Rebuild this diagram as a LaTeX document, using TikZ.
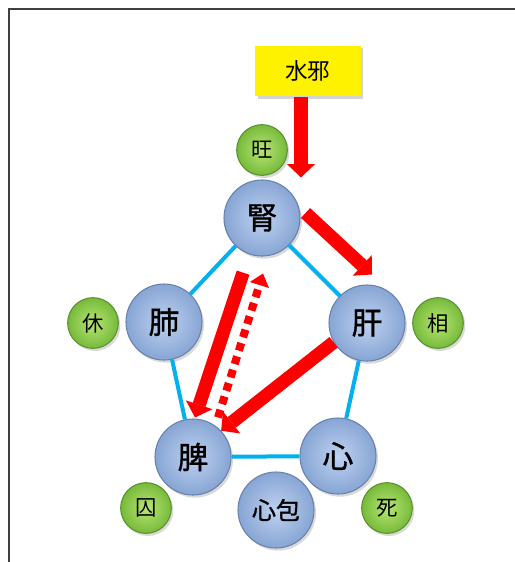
\documentclass[tikz,border=0pt]{standalone}
\usepackage{fontspec}
\newfontfamily\cjk{Noto Sans CJK JP}
\newfontfamily\cjkheavy[FakeBold=1.2]{Noto Sans CJK JP}
\usetikzlibrary{arrows.meta,shadows,calc}
\definecolor{bluein}{RGB}{190,210,240}
\definecolor{blueout}{RGB}{135,165,212}
\definecolor{blueedge}{RGB}{105,130,172}
\definecolor{greenin}{RGB}{185,230,115}
\definecolor{greenout}{RGB}{118,186,58}
\definecolor{greenedge}{RGB}{92,145,45}
\definecolor{linkblue}{RGB}{0,176,240}

\begin{document}
\begin{tikzpicture}[x=0.75pt,y=-0.75pt,
	organ/.style={circle,minimum size=57pt,inner sep=0pt,draw=blueedge,line width=0.8pt,inner color=bluein,outer color=blueout,drop shadow={opacity=0.3,shadow xshift=1.5pt,shadow yshift=-2pt},font=\cjkheavy\fontsize{23}{23}\selectfont},
	state/.style={circle,minimum size=38pt,inner sep=0pt,draw=greenedge,line width=0.8pt,inner color=greenin,outer color=greenout,drop shadow={opacity=0.3,shadow xshift=1.5pt,shadow yshift=-2pt},font=\cjk\fontsize{16}{16}\selectfont},
	note/.style={rectangle,fill=yellow,minimum width=79pt,minimum height=38pt,drop shadow={opacity=0.35,shadow xshift=2pt,shadow yshift=-2pt},font=\cjk\fontsize{17}{17}\selectfont},
	link/.style={draw=linkblue,line width=3pt},
	push/.style={draw=red,line width=10pt,-{Triangle[width=21pt,length=10pt,line width=0pt]}},
	back/.style={draw=red,line width=6pt,dash pattern=on 6pt off 4.5pt,-{Triangle[width=15pt,length=9pt,line width=0pt]}}]
	\useasboundingbox (0,0) rectangle (515,562);
	\draw[line width=1.5pt,black!75] (9,562) -- (9,9) -- (515,9);
	\node[note] (shui) at (308,71) {水邪};
	\node[organ] (shen) at (262,218) {腎};
	\node[organ] (fei) at (164,322) {肺};
	\node[organ] (gan) at (367,323) {肝};
	\node[organ] (pi) at (193,457) {脾};
	\node[organ] (xin) at (338,456) {心};
	\node[organ,font=\cjkheavy\fontsize{18}{18}\selectfont] (xinbao) at (276,510) {心包};
	\node[state] (wang) at (262,150) {旺};
	\node[state] (xiu) at (93,323) {休};
	\node[state] (xiang) at (438,323) {相};
	\node[state] (qiu) at (146,508) {囚};
	\node[state] (si) at (387,508) {死};
	\draw[link] (shen) -- (fei);
	\draw[link] (shen) -- (gan);
	\draw[link] (fei) -- (pi);
	\draw[link] (gan) -- (xin);
	\draw[link] (pi) -- (xin);
	\draw[push] ($(shui.south)+(-7,0)$) -- ($(shen.north)+(39,-2)$);
	\draw[push] ($(shen.east)+(5,-5)$) -- ($(gan.north)+(5,-10)$);
	\draw[push] (gan.210) -- (pi.43);
	\draw[push] ($(shen.252)+(-7,18)$) -- ($(pi.north)+(2,-1)$);
	\draw[back] ($(pi.north)+(25,-1)$) -- ($(shen.south)+(1,17)$);
\end{tikzpicture}
\end{document}
